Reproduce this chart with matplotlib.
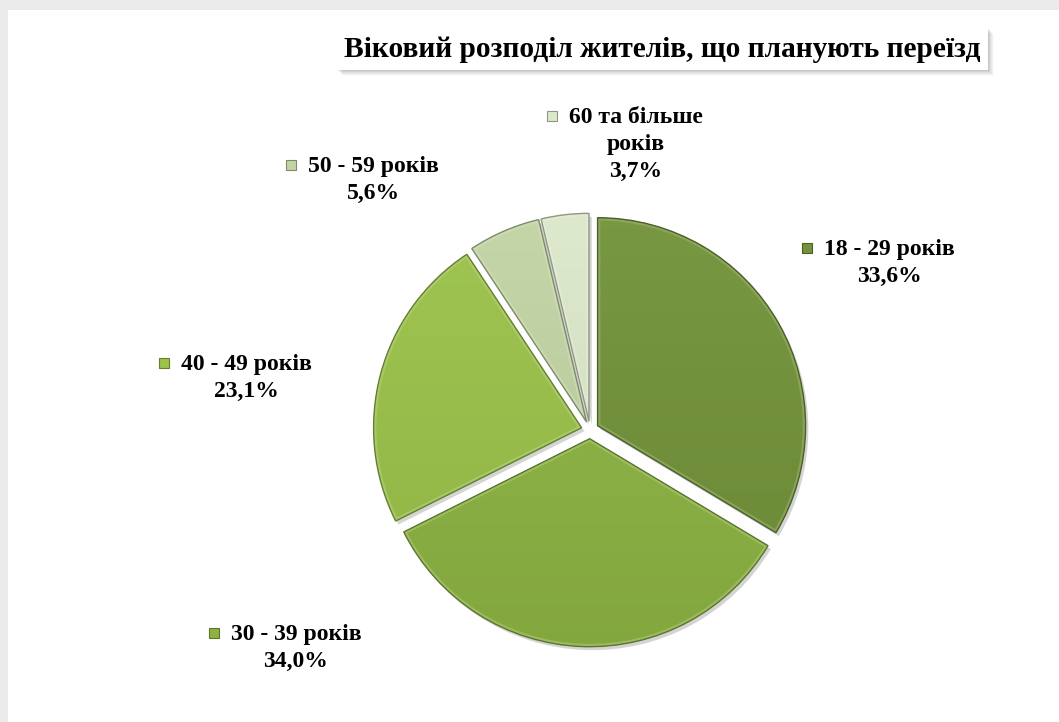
import numpy as np
import matplotlib
matplotlib.use("Agg")
import matplotlib.pyplot as plt
from matplotlib.patches import Rectangle, Wedge
from matplotlib.colors import to_rgb
import matplotlib.patheffects as pe

# ---- data ----
categories = ["18 - 29 років", "30 - 39 років", "40 - 49 років", "50 - 59 років", "60 та більше\nроків"]
values = [33.6, 34.0, 23.1, 5.6, 3.7]
value_labels = ["33,6%", "34,0%", "23,1%", "5,6%", "3,7%"]
colors = ["#73933a", "#8db443", "#9bc24a", "#c2d4a4", "#dce8ca"]
title = "Віковий розподіл жителів, що планують переїзд"

# ---- layout (pixels) ----
W, H = 1059, 722
PIE_CX, PIE_CY, PIE_R = 590, 430, 208
EXPLODE = 8.7
label_cx = [889, 296, 246, 373, 636]
label_base = [255, 640, 370, 172, 123]
LINE = 27
FONT = "Liberation Serif"

fig = plt.figure(figsize=(W / 100, H / 100), dpi=100)
fig.patch.set_facecolor("#ebebeb")
ax = fig.add_axes([0, 0, 1, 1])
ax.patch.set_alpha(0)


def Y(y):
    return H - y


def shade(c, f):
    r, g, b = to_rgb(c)
    if f >= 0:
        return (r + (1 - r) * f, g + (1 - g) * f, b + (1 - b) * f)
    return (r * (1 + f), g * (1 + f), b * (1 + f))


ax.add_patch(Rectangle((8, 0), W, H - 10, facecolor="white", edgecolor="none", zorder=0))

wedges, _ = ax.pie(values, startangle=90, counterclock=False, explode=[EXPLODE] * len(values),
                   radius=PIE_R, center=(PIE_CX, Y(PIE_CY)), colors=colors,
                   wedgeprops=dict(linewidth=0))

for w, c in zip(wedges, colors):
    w.set_path_effects([pe.SimplePatchShadow(offset=(2, -2.5), shadow_rgbFace=(0.45, 0.45, 0.45), alpha=0.3),
                        pe.Normal()])
    w.set_zorder(2)
    cx, cy = w.center
    r = w.r
    n = 256
    t = np.linspace(0, 1, n)[:, None]
    top = np.array(shade(c, 0.04))
    bot = np.array(shade(c, -0.07))
    grad = top[None, None, :] * (1 - t[:, :, None]) + bot[None, None, :] * t[:, :, None]
    grad = np.repeat(grad, 4, axis=1)
    im = ax.imshow(grad, extent=(cx - r, cx + r, cy - r, cy + r), origin="upper",
                   interpolation="bilinear", zorder=3, aspect="auto")
    im.set_clip_path(w)
    hl = Wedge((cx, cy), r, w.theta1, w.theta2, facecolor="none",
               edgecolor=shade(c, 0.30), linewidth=4.0, alpha=0.55, zorder=4)
    ax.add_patch(hl)
    hl.set_clip_path(w)
    edge = Wedge((cx, cy), r, w.theta1, w.theta2, facecolor="none",
                 edgecolor=shade(c, -0.35), linewidth=1.0, zorder=5)
    ax.add_patch(edge)

ax.set_xlim(0, W)
ax.set_ylim(0, H)
ax.set_aspect("auto")
ax.axis("off")

# ---- labels ----
fig.canvas.draw()
renderer = fig.canvas.get_renderer()
for cat, val, c, x, yb in zip(categories, value_labels, colors, label_cx, label_base):
    lines = cat.split("\n") + [val]
    first = None
    for i, line in enumerate(lines):
        t = ax.text(x, Y(yb + i * LINE), line, ha="center", va="baseline",
                    fontfamily=FONT, fontweight="bold", fontsize=17, color="black", zorder=10)
        if i == 0:
            first = t
    bb = first.get_window_extent(renderer)
    left = bb.x0
    ms = 10
    ax.add_patch(Rectangle((left - 12 - ms, Y(yb) + 2), ms, ms,
                           facecolor=c, edgecolor=shade(c, -0.35), linewidth=0.8, zorder=10))

# ---- title box ----
bx0, by0, bx1, by1 = 337, 28, 988, 70
for k, a in zip(range(6, 0, -1), [0.04, 0.06, 0.08, 0.10, 0.12, 0.14]):
    ax.add_patch(Rectangle((bx0 + k, Y(by1 + k)), bx1 - bx0, by1 - by0,
                           facecolor="gray", edgecolor="none", alpha=a, zorder=11))
ax.add_patch(Rectangle((bx0, Y(by1)), bx1 - bx0, by1 - by0,
                       facecolor="white", edgecolor="none", zorder=12))
ax.text((bx0 + bx1) / 2, Y(57), title, ha="center", va="baseline",
        fontfamily=FONT, fontweight="bold", fontsize=21.2, color="black", zorder=13)

fig.savefig("out.png", dpi=100, facecolor=fig.get_facecolor())
